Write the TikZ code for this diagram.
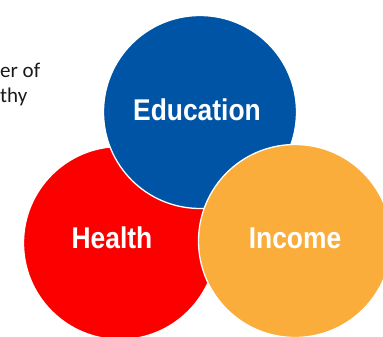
\documentclass[tikz,border=0pt]{standalone}
\usepackage{fontspec}
\setmainfont{Carlito}
\newfontfamily\labelfont{Liberation Sans}[FakeStretch=0.88]
\usetikzlibrary{calc, positioning}
\definecolor{edublue}{RGB}{0,84,165}
\definecolor{healthred}{RGB}{252,0,0}
\definecolor{incomeorange}{RGB}{250,173,58}
\tikzstyle{bubble} = [circle, draw=white, line width=1.3pt, minimum size=193pt, inner sep=0pt]
\tikzstyle{bubbletext} = [text=white, inner sep=0pt, font=\labelfont\bfseries\fontsize{30}{36}\selectfont]
\tikzstyle{sidetext} = [anchor=north west, align=left, inner sep=0pt, text=black!90, font=\fontsize{21}{24.5}\selectfont]

\begin{document}
\begin{tikzpicture}[x=1pt, y=-1pt]
		\clip (0,0) rectangle (383,337);
		\useasboundingbox (0,0) rectangle (383,337);

		\node (Side) [sidetext] at (0,63) {er of\\thy};

		\node (Health) [bubble, fill=healthred] at (120,243) {};
		\node (Education) [bubble, fill=edublue] at (200,112) {};
		\node (Income) [bubble, fill=incomeorange] at (295,241) {};

		\node (HealthText) [bubbletext] at ($(Health) + (-8,-5)$) {Health};
		\node (EducationText) [bubbletext] at ($(Education) + (-3,-2)$) {Education};
		\node (IncomeText) [bubbletext] at ($(Income) + (0,-3)$) {Income};
	\end{tikzpicture}
\end{document}
